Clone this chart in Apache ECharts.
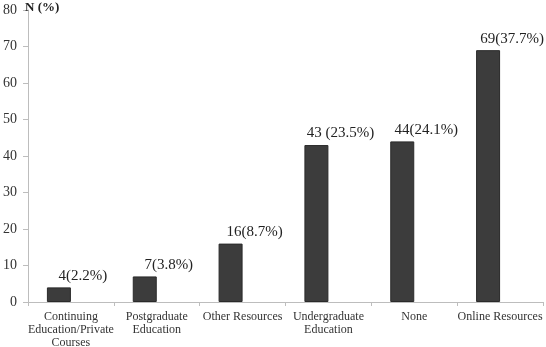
<!DOCTYPE html>
<html>
<head>
<meta charset="utf-8">
<script src="https://cdn.jsdelivr.net/npm/echarts@6/dist/echarts.min.js"></script>
<style>
  html, body { margin: 0; padding: 0; background: #fff; }
  #chart { width: 546px; height: 347px; }
</style>
</head>
<body>
<div id="chart"></div>
<script>
// categories and values
const categories = [
  'Continuing\nEducation/Private\nCourses',
  'Postgraduate\nEducation',
  'Other Resources',
  'Undergraduate\nEducation',
  'None',
  'Online Resources'
]
const counts = [4, 7, 16, 43, 44, 69]
const percents = ['2.2%', '3.8%', '8.7%', '23.5%', '24.1%', '37.7%']
const labelSep = ['', '', '', ' ', '', '']

const serif = '"Liberation Serif", "DejaVu Serif", serif'

const myChart = echarts.init(document.getElementById('chart'))
myChart.setOption({
  animation: false,
  title: {
    text: 'N (%)',
    left: 25,
    top: 1,
    padding: 0,
    textStyle: {
      fontFamily: serif,
      fontWeight: 'bold',
      fontSize: 13,
      color: '#222'
    }
  },
  grid: {
    left: 28,
    right: 3,
    top: 10,
    bottom: 45,
    containLabel: false,
    outerBoundsMode: 'none'
  },
  xAxis: {
    type: 'category',
    data: categories,
    axisLine: { lineStyle: { color: '#bdbdbd', width: 1 } },
    axisTick: { show: true, length: 4, lineStyle: { color: '#bdbdbd' } },
    axisLabel: {
      interval: 0,
      margin: 8,
      fontFamily: serif,
      fontSize: 12,
      lineHeight: 13,
      color: '#333'
    }
  },
  yAxis: {
    type: 'value',
    min: 0,
    max: 80,
    interval: 10,
    splitLine: { show: false },
    axisLine: { show: true, lineStyle: { color: '#bdbdbd', width: 1 } },
    axisTick: { show: true, length: 5, lineStyle: { color: '#bdbdbd' } },
    axisLabel: {
      margin: 11,
      fontFamily: serif,
      fontSize: 14,
      color: '#333'
    }
  },
  series: [
    {
      name: 'N',
      type: 'bar',
      data: counts,
      barWidth: 24,
      barGap: 0,
      itemStyle: {
        color: '#3c3c3c',
        borderColor: '#2a2a2a',
        borderWidth: 1
      }
    },
    {
      // empty slot next to each bar, carries the labels
      name: 'label',
      type: 'bar',
      data: counts,
      barWidth: 24,
      barGap: 0,
      silent: true,
      itemStyle: { color: 'rgba(0,0,0,0)' },
      label: {
        show: true,
        position: 'top',
        distance: 4,
        fontFamily: serif,
        fontSize: 15,
        color: '#222',
        formatter: function (p) {
          return counts[p.dataIndex] + labelSep[p.dataIndex] + '(' + percents[p.dataIndex] + ')'
        }
      }
    }
  ]
})
</script>
</body>
</html>
